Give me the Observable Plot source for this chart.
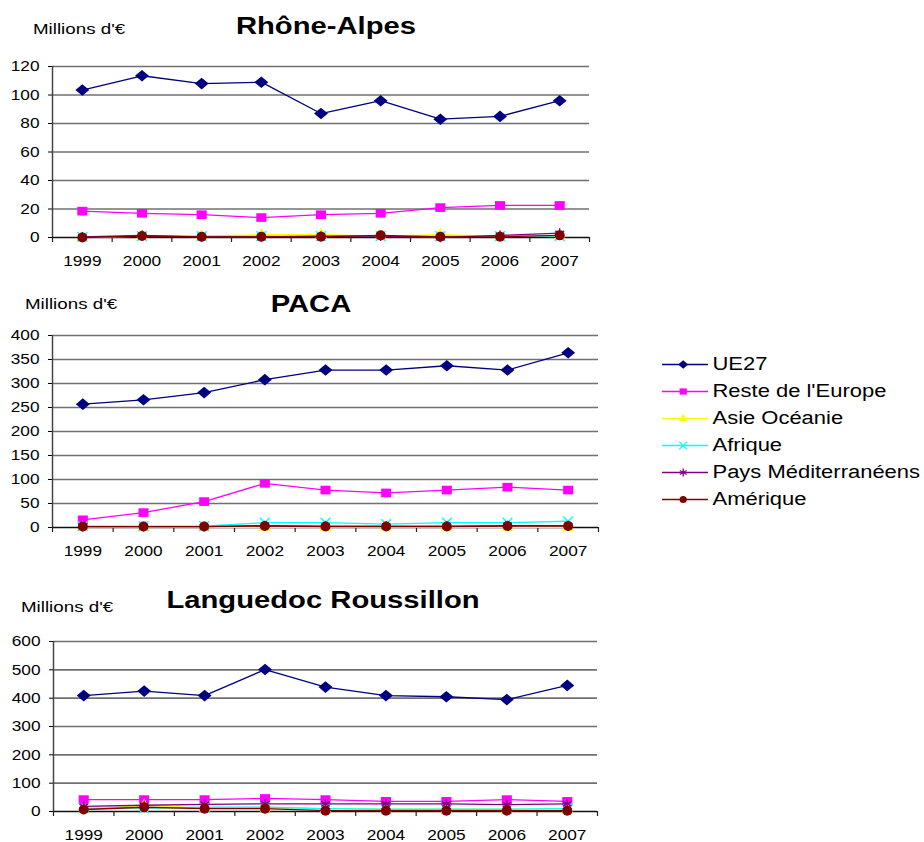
<!DOCTYPE html>
<html><head><meta charset="utf-8">
<script src="https://cdn.jsdelivr.net/npm/d3@7"></script>
<script src="https://cdn.jsdelivr.net/npm/@observablehq/plot@0.6"></script>
<style>
body{margin:0;background:#fff;}
#page{position:relative;width:924px;height:842px;overflow:hidden;background:#fff;font-family:'Liberation Sans',Arial,sans-serif;color:#000;}
.abs{position:absolute;white-space:nowrap;}
.title{font-weight:bold;font-size:23px;line-height:23px;transform:translateX(-50%) scaleX(1.27);}
.unit{font-size:15px;line-height:15px;transform-origin:0 0;transform:scaleX(1.25);}
</style></head><body><div id="page"></div>
<script>
const years = [1999, 2000, 2001, 2002, 2003, 2004, 2005, 2006, 2007];
const seriesNames = ["UE27", "Reste de l'Europe", "Asie Océanie", "Afrique", "Pays Méditerranéens", "Amérique"];
const seriesColors = ["#000080", "#FF00FF", "#FFFF00", "#00FFFF", "#800080", "#800000"];
const regionTitles = ["Rhône-Alpes", "PACA", "Languedoc Roussillon"];
const unitLabel = "Millions d'€";
const yTicksRhone = [0, 20, 40, 60, 80, 100, 120];
const yTicksPaca = [0, 50, 100, 150, 200, 250, 300, 350, 400];
const yTicksLang = [0, 100, 200, 300, 400, 500, 600];

// Rhône-Alpes
const raUE27 = [103.5, 113.5, 108, 109, 87, 96, 83, 85, 96];
const raReste = [18.5, 17, 16, 14, 16, 17, 21, 22.5, 22.5];
const raAsie = [0, 1, 1, 2, 2, 1, 2, 1, 1];
const raAfrique = [0.5, 1, 1, 1, 1, 1, 1, 1, 1];
const raMed = [0.5, 1.5, 0.5, 0.5, 1, 1, 0, 1.5, 3];
const raAmerique = [0, 1, 0.5, 0.5, 0.5, 1.5, 0.5, 0.5, 1.5];

// PACA
const pacaUE27 = [257, 266, 281, 308, 328, 328, 337, 328, 364];
const pacaReste = [16, 31, 54, 92, 78, 72, 78, 84, 78];
const pacaAsie = [0.5, 0.5, 0.5, 0.5, 0.5, 0.5, 0.5, 0.5, 0.5];
const pacaAfrique = [3, 3, 3, 10, 10, 7, 10, 10, 13];
const pacaMed = [2, 2, 2, 4, 3, 3, 3, 4, 4];
const pacaAmerique = [2, 2, 2, 3, 2, 2, 2, 3, 3];

// Languedoc Roussillon
const lrUE27 = [409, 425, 409, 501, 439, 409, 405, 395, 445];
const lrReste = [42, 42, 42, 46, 42, 36, 36, 42, 36];
const lrAsie = [5, 22, 12, 15, 10, 8, 8, 8, 8];
const lrAfrique = [12, 12, 15, 15, 10, 8, 8, 8, 10];
const lrMed = [18, 22, 25, 27, 27, 27, 27, 24, 27];
const lrAmerique = [7, 15, 10, 10, 3, 3, 3, 3, 3];

// ---- symbols (slightly wide, like the stretched original) ----
const diamondSym = {draw(ctx, size) { const r = Math.sqrt(size / Math.PI);
  ctx.moveTo(0, -r * 1.0); ctx.lineTo(r * 1.2, 0); ctx.lineTo(0, r * 1.0); ctx.lineTo(-r * 1.2, 0); ctx.closePath(); }};
const squareSym = {draw(ctx, size) { const r = Math.sqrt(size / Math.PI);
  ctx.moveTo(-r * 1.05, -r * 0.9); ctx.lineTo(r * 1.05, -r * 0.9); ctx.lineTo(r * 1.05, r * 0.9); ctx.lineTo(-r * 1.05, r * 0.9); ctx.closePath(); }};
const symStyle = [
  {symbol: diamondSym, filled: true, r: 5.8},
  {symbol: squareSym, filled: true, r: 4.8},
  {symbol: "triangle", filled: true, r: 4.4},
  {symbol: "times", filled: false, r: 4.5},
  {symbol: "asterisk", filled: false, r: 4.6},
  {symbol: "circle", filled: true, r: 5}
];

const page = document.getElementById("page");
const FONT = "'Liberation Sans', Arial, sans-serif";

function stretchTexts(svg, f) {
  svg.querySelectorAll("text").forEach(t => {
    const L = t.getComputedTextLength();
    if (L > 0) { t.setAttribute("textLength", (L * f).toFixed(2)); t.setAttribute("lengthAdjust", "spacingAndGlyphs"); }
  });
}
function place(el, left, top) {
  const d = document.createElement("div");
  d.className = "abs"; d.style.left = left + "px"; d.style.top = top + "px";
  d.appendChild(el); page.appendChild(d); return d;
}
function addText(cls, text, left, top) {
  const d = document.createElement("div");
  d.className = "abs " + cls; d.textContent = text;
  d.style.left = left + "px"; d.style.top = top + "px";
  page.appendChild(d);
}

function panel(arrays, yTicks, lay) {
  const rows = [];
  seriesNames.forEach((s, i) => years.forEach((yr, j) => rows.push({year: yr, series: s, value: arrays[i][j]})));
  const bounds = years.map(y => y - 0.5).concat([years[years.length - 1] + 0.5]);
  const marks = [
    Plot.ruleY(yTicks.filter(v => v !== 0), {stroke: "#707070", strokeWidth: 1.6}),
    Plot.axisY({ticks: yTicks, tickSize: 4, tickPadding: 9, tickFormat: d => String(d)}),
    Plot.ruleX([bounds[0]], {stroke: "#444", strokeWidth: 1.5}),
    Plot.ruleY([0], {stroke: "#111", strokeWidth: 1.5}),
    Plot.ruleX(bounds, {x: d => d, y1: 0, y2: 0, insetBottom: -5, stroke: "#222", strokeWidth: 1.2}),
    Plot.axisX({ticks: years, tickSize: 0, tickPadding: 18, tickFormat: d => String(d)})
  ];
  seriesNames.forEach((s, i) => {
    const data = rows.filter(r => r.series === s);
    marks.push(Plot.line(data, {x: "year", y: "value", stroke: seriesColors[i], strokeWidth: 1.3}));
    const st = symStyle[i];
    marks.push(Plot.dot(data, st.filled
      ? {x: "year", y: "value", symbol: st.symbol, r: st.r, fill: seriesColors[i], stroke: "none"}
      : {x: "year", y: "value", symbol: st.symbol, r: st.r, fill: "none", stroke: seriesColors[i], strokeWidth: 1.4}));
  });
  const svg = Plot.plot({
    width: lay.width, height: lay.height,
    marginLeft: lay.ml, marginRight: lay.mr, marginTop: 10, marginBottom: 31,
    x: {domain: [bounds[0], bounds[bounds.length - 1]], label: null},
    y: {domain: [0, yTicks[yTicks.length - 1]], label: null},
    style: {fontFamily: FONT, fontSize: "15px", color: "#000", background: "none", overflow: "visible"},
    marks
  });
  place(svg, 0, lay.top);
  stretchTexts(svg, 1.15);
  addText("title", lay.title, lay.titleX, lay.titleTop);
  addText("unit", unitLabel, lay.unitX, lay.unitTop);
}

panel([raUE27, raReste, raAsie, raAfrique, raMed, raAmerique], yTicksRhone,
  {top: 56, width: 600, height: 212, ml: 52, mr: 11, title: regionTitles[0], titleX: 326, titleTop: 14.5, unitX: 33, unitTop: 21.3});
panel([pacaUE27, pacaReste, pacaAsie, pacaAfrique, pacaMed, pacaAmerique], yTicksPaca,
  {top: 325, width: 600, height: 233, ml: 52, mr: 2, title: regionTitles[1], titleX: 311, titleTop: 292.5, unitX: 25, unitTop: 296.3});
panel([lrUE27, lrReste, lrAsie, lrAfrique, lrMed, lrAmerique], yTicksLang,
  {top: 631, width: 600, height: 211, ml: 53, mr: 3, title: regionTitles[2], titleX: 323, titleTop: 588.5, unitX: 21, unitTop: 599.3});

// ---- legend ----
const legendMarks = [];
seriesNames.forEach((s, i) => {
  const st = symStyle[i];
  legendMarks.push(Plot.ruleY([s], {y: d => d, x1: 0, x2: 1, stroke: seriesColors[i], strokeWidth: 1.5}));
  legendMarks.push(Plot.dot([s], st.filled
    ? {x: 0.45, y: d => d, symbol: st.symbol, r: st.r * 0.72, fill: seriesColors[i], stroke: "none"}
    : {x: 0.45, y: d => d, symbol: st.symbol, r: st.r * 0.8, fill: "none", stroke: seriesColors[i], strokeWidth: 1.3}));
  legendMarks.push(Plot.text([s], {x: 1, y: d => d, text: d => d, dx: 4, textAnchor: "start", fontSize: 18, fill: "#000"}));
});
const legend = Plot.plot({
  width: 284, height: 180, marginLeft: 22, marginRight: 216, marginTop: 24, marginBottom: 21,
  x: {domain: [0, 1], axis: null},
  y: {type: "point", domain: seriesNames, axis: null, padding: 0},
  style: {fontFamily: FONT, fontSize: "18px", color: "#000", background: "none", overflow: "visible"},
  marks: legendMarks
});
place(legend, 640, 340);
stretchTexts(legend, 1.22);
</script></body></html>
